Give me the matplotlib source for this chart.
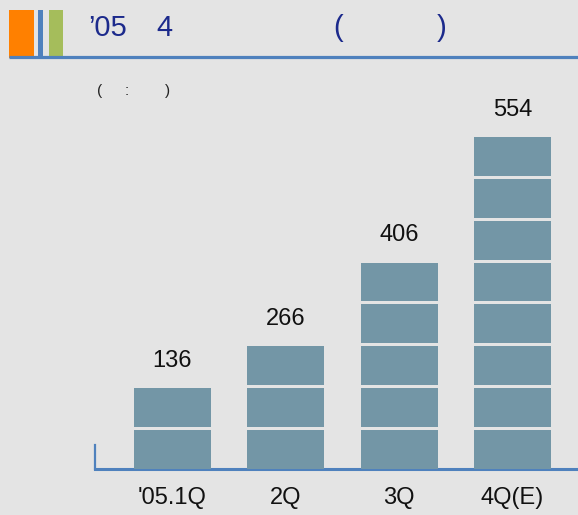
import matplotlib
matplotlib.use("Agg")
import matplotlib.pyplot as plt
from matplotlib.patches import Rectangle

plt.rcParams['font.family'] = ['Liberation Sans', 'DejaVu Sans']

# chart data
quarters = ["'05.1Q", "2Q", "3Q", "4Q(E)"]
values = [136, 266, 406, 554]
blocks = [2, 3, 5, 8]   # stacked blocks drawn per bar

bg = '#e4e4e4'
bar_color = '#7396a6'
line_blue = '#4f81bd'
navy = '#1c2a8c'

W, H = 578, 515
fig = plt.figure(figsize=(W / 100, H / 100), dpi=100)
fig.patch.set_facecolor(bg)

# overlay in pixel coordinates for the header decoration
deco = fig.add_axes([0, 0, 1, 1])
deco.set_xlim(0, W)
deco.set_ylim(H, 0)
deco.axis('off')
deco.add_patch(Rectangle((9, 10), 25, 48, color='#ff8000', lw=0))
deco.add_patch(Rectangle((38, 10), 5, 49, color=line_blue, lw=0))
deco.add_patch(Rectangle((49, 10), 14, 48, color='#a5bd5b', lw=0))
deco.plot([9, W], [56.5, 56.5], color=line_blue, lw=2.3, solid_capstyle='butt')

title_kw = dict(fontsize=21, color=navy, va='center', ha='left')
deco.text(88, 28, "\u201905", **title_kw)
deco.text(156, 28, "4", **title_kw)
deco.text(333, 28, "(", **title_kw)
deco.text(437, 28, ")", **title_kw)

sub_kw = dict(fontsize=11, color='#222222', va='center', ha='left')
deco.text(97, 91, "(", **sub_kw)
deco.text(125, 91, ":", **sub_kw)
deco.text(165, 91, ")", **sub_kw)

# chart axes: y in block units
unit = 41.9
ax_left, ax_bottom, ax_top = 95, 469, 100
ax = fig.add_axes([ax_left / W, (H - ax_bottom) / H, 1 - ax_left / W,
                   (ax_bottom - ax_top) / H])
ax.set_facecolor('none')
step = 113.33
x0 = 77.5
ax.set_xlim(-x0 / step, (W - ax_left - x0) / step)
ax.set_ylim(0, (ax_bottom - ax_top) / unit)

gap = 3 / unit
xs = range(len(quarters))
for x, n in zip(xs, blocks):
    for k in range(n):
        ax.bar(x, 1 - gap, bottom=k, width=0.68, color=bar_color, zorder=3)

for x, n, v in zip(xs, blocks, values):
    ax.text(x, n - gap + 27 / unit, str(v), ha='center', va='center',
            fontsize=17, color='#111111')

for s in ['top', 'right']:
    ax.spines[s].set_visible(False)
ax.spines['bottom'].set_color(line_blue)
ax.spines['bottom'].set_linewidth(2.2)
ax.spines['left'].set_color(line_blue)
ax.spines['left'].set_linewidth(1.6)
ax.spines['left'].set_bounds(0, 24 / unit)
ax.set_yticks([])
ax.set_xticks(list(xs))
ax.set_xticklabels(quarters, fontsize=17, color='#111111')
ax.tick_params(axis='x', length=0, pad=13)

fig.savefig('out.png', dpi=100, facecolor=bg)
